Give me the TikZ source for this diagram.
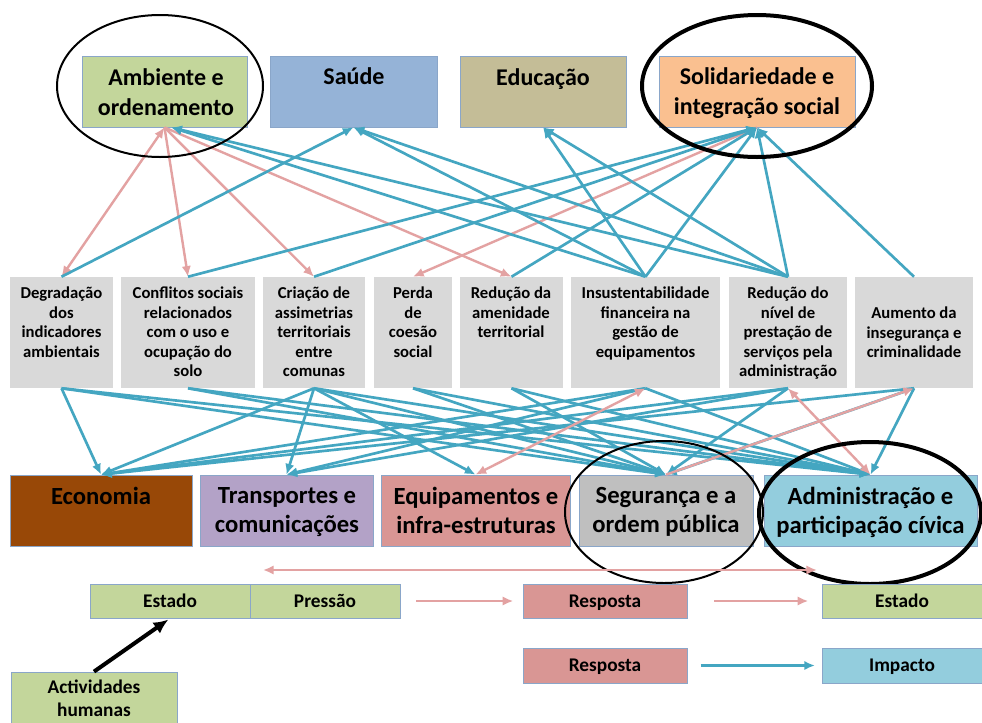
\documentclass[tikz,border=0pt]{standalone}
\usepackage{fontspec}
\setmainfont{Carlito}
\usetikzlibrary{arrows.meta,fit,shapes.geometric}
\definecolor{ambc}{HTML}{C3D69B}
\definecolor{saudec}{HTML}{95B3D7}
\definecolor{educ}{HTML}{C4BD97}
\definecolor{solc}{HTML}{FAC090}
\definecolor{grayc}{HTML}{D9D9D9}
\definecolor{ecoc}{HTML}{984807}
\definecolor{transc}{HTML}{B3A2C7}
\definecolor{equipc}{HTML}{D99694}
\definecolor{segc}{HTML}{BFBFBF}
\definecolor{admc}{HTML}{93CDDD}
\definecolor{edgec}{HTML}{8AA6C9}
\definecolor{linkblue}{HTML}{44A6C1}
\definecolor{linkpink}{HTML}{E3A2A2}
\begin{document}
\begin{tikzpicture}[x=0.75pt,y=-0.75pt,
  box/.style={draw=edgec, line width=0.6pt, inner sep=0pt},
  gbox/.style={fill=grayc, inner sep=0pt},
  toplbl/.style={inner sep=0pt, align=center, anchor=north,
    font={\fontsize{18pt}{22.5pt}\selectfont\bfseries}},
  botlbl/.style={inner sep=0pt, align=center, anchor=north,
    font={\fontsize{18.5pt}{21.75pt}\selectfont\bfseries}},
  graylbl/.style={inner sep=0pt, align=center, anchor=north,
    font={\fontsize{12.5pt}{14.6pt}\selectfont\bfseries}},
  leglbl/.style={inner sep=0pt, align=center,
    font={\fontsize{14.5pt}{17pt}\selectfont\bfseries}},
  legone/.style={leglbl, anchor=base},
  bluearr/.style={draw=linkblue, line width=2pt,
    -{Latex[length=8pt,width=7pt]}},
  pinkarr/.style={draw=linkpink, line width=1.8pt,
    -{Latex[length=8pt,width=7pt]}},
  pinkboth/.style={draw=linkpink, line width=1.8pt,
    {Latex[length=8pt,width=7pt]}-{Latex[length=8pt,width=7pt]}},
  ring/.style={ellipse, draw=black, inner sep=0pt}]

% canvas
\useasboundingbox[fill=white] (0,0) rectangle (982,722);

% ---- domains (top row)
\node[box, fill=ambc,   fit={(82,56) (247,127)}]  (amb)   {};
\node[box, fill=saudec, fit={(270,56) (437,127)}] (saude) {};
\node[box, fill=educ,   fit={(460,56) (626,127)}] (edu)   {};
\node[box, fill=solc,   fit={(659,56) (855,127)}] (sol)   {};

\node[toplbl] (amb-t)   at (166,68) {Ambiente e\\ordenamento};
\node[toplbl] (saude-t) at (354,67) {Saúde};
\node[toplbl] (edu-t)   at (543,68) {Educação};
\node[toplbl] (sol-t)   at (757,67) {Solidariedade e\\integração social};

% ---- problems (middle row)
\node[gbox, fit={(10,277) (113,388)}]  (degr)  {};
\node[gbox, fit={(121,277) (255,388)}] (conf)  {};
\node[gbox, fit={(263,277) (365,388)}] (cria)  {};
\node[gbox, fit={(374,277) (452,388)}] (perda) {};
\node[gbox, fit={(460,277) (563,388)}] (redam) {};
\node[gbox, fit={(571,277) (720,388)}] (insu)  {};
\node[gbox, fit={(729,277) (847,388)}] (rednv) {};
\node[gbox, fit={(855,277) (973,388)}] (aum)   {};

\node[graylbl] (degr-t)  at (61.5,287) {Degradação\\dos\\indicadores\\ambientais};
\node[graylbl] (conf-t)  at (188,287)  {Conflitos sociais\\relacionados\\com o uso e\\ocupação do\\solo};
\node[graylbl] (cria-t)  at (314,287)  {Criação de\\assimetrias\\territoriais\\entre\\comunas};
\node[graylbl] (perda-t) at (413,287)  {Perda\\de\\coesão\\social};
\node[graylbl] (redam-t) at (511,287)  {Redução da\\amenidade\\territorial};
\node[graylbl] (insu-t)  at (645.5,287){Insustentabilidade\\financeira na\\gestão de\\equipamentos};
\node[graylbl] (rednv-t) at (788,287)  {Redução do\\nível de\\prestação de\\serviços pela\\administração};
\node[graylbl] (aum-t)   at (914,307)  {Aumento da\\insegurança e\\criminalidade};

% ---- domains (bottom row)
\node[box, fill=ecoc,   fit={(10,475) (192,546)}]  (eco)   {};
\node[box, fill=transc, fit={(200,475) (373,546)}] (trans) {};
\node[box, fill=equipc, fit={(381,475) (570,546)}] (equip) {};
\node[box, fill=segc,   fit={(579,475) (753,546)}] (seg)   {};
\node[box, fill=admc,   fit={(764,475) (977,546)}] (adm)   {};

\node[botlbl] (eco-t)   at (101,487)   {Economia};
\node[botlbl] (trans-t) at (287,487)   {Transportes e\\comunicações};
\node[botlbl] (equip-t) at (476,487)   {Equipamentos e\\infra-estruturas};
\node[botlbl] (seg-t)   at (666,487)   {Segurança e a\\ordem pública};
\node[botlbl] (adm-t)   at (870.5,487) {Administração e\\participação cívica};

% ---- links between top row and problems
\draw[pinkboth] (amb.south) -- (degr.north);
\foreach \t in {conf,cria,redam}
  \draw[pinkarr] (amb.south) -- (\t.north);
\draw[pinkarr] (sol.south) -- (perda.north);

\foreach \s/\t in {degr/saude, conf/sol, cria/sol, redam/sol,
                   insu/saude, insu/edu, insu/sol,
                   rednv/saude, rednv/edu, rednv/sol, aum/sol}
  \draw[bluearr] (\s.north) -- (\t.south);
\foreach \s in {insu,rednv}
  \draw[bluearr] (\s.north) -- ([xshift=5pt]amb.south);

% ---- links between problems and bottom row
\foreach \s/\t in {degr/eco, degr/seg, degr/adm, conf/seg, conf/adm,
                   cria/eco, cria/trans, cria/equip, cria/seg, cria/adm,
                   perda/seg, perda/adm, redam/seg, redam/adm,
                   insu/eco, insu/trans, insu/adm,
                   rednv/eco, rednv/trans, rednv/seg,
                   aum/eco, aum/seg, aum/adm}
  \draw[bluearr] (\s.south) -- (\t.north);
\draw[pinkboth] (equip.north) -- (insu.south);
\draw[pinkarr]  (seg.north) -- (aum.south);
\draw[pinkboth] (rednv.south) -- (adm.north);

% ---- highlight rings
\node[ring, line width=1.5pt, minimum width=154.5pt, minimum height=106.5pt] (ring-amb) at (160,86) {};
\node[ring, line width=3pt,   minimum width=172.5pt, minimum height=106.5pt] (ring-sol) at (757,86) {};
\node[ring, line width=1.5pt, minimum width=148.5pt, minimum height=106.5pt] (ring-seg) at (664,512) {};
\node[ring, line width=3pt,   minimum width=166.5pt, minimum height=106.5pt] (ring-adm) at (870,513) {};

% ---- legend
\coordinate (lp-l) at (263,570);
\coordinate (lp-r) at (817,570);
\draw[pinkboth] (lp-r) -- (lp-l);

\node[box, fill=ambc,   fit={(90,584) (250,618)}]  (est1)  {};
\node[box, fill=ambc,   fit={(250,584) (400,618)}] (pres)  {};
\node[box, fill=equipc, fit={(523,584) (687,618)}] (resp1) {};
\node[box, fill=ambc,   fit={(822,584) (990,618)}] (est2)  {};
\node[box, fill=equipc, fit={(523,648) (687,683)}] (resp2) {};
\node[box, fill=admc,   fit={(822,648) (990,683)}] (imp)   {};
\node[box, fill=ambc,   fit={(11,672) (177,730)}]  (act)   {};

\node[legone] (est1-t)  at ([yshift=-4.5pt]est1.center)  {Estado};
\node[legone] (pres-t)  at ([yshift=-4.5pt]pres.center)  {Pressão};
\node[legone] (resp1-t) at ([yshift=-4.5pt]resp1.center) {Resposta};
\node[legone] (est2-t)  at (902,607) {Estado};
\node[legone] (resp2-t) at ([yshift=-4.5pt]resp2.center) {Resposta};
\node[legone] (imp-t)   at (902,671.5) {Impacto};
\node[leglbl] (act-t)   at (94,698) {Actividades\\humanas};

\draw[pinkarr, shorten <=12pt, shorten >=7pt] (pres) -- (resp1);
\draw[pinkarr, shorten <=20pt, shorten >=10pt] (resp1) -- (est2);
\draw[bluearr, shorten <=10pt, shorten >=5pt] (resp2) -- (imp);
\draw[line width=3pt, -{Latex[length=11pt,width=10pt]}, shorten >=1.5pt]
  (act.north) -- (est1.south);
\end{tikzpicture}
\end{document}
